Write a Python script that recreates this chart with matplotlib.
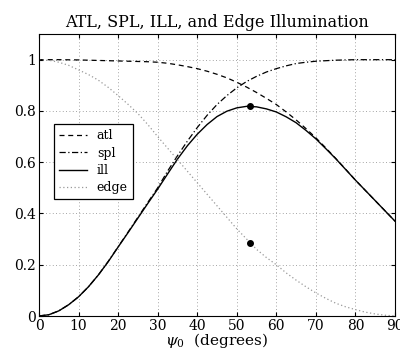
import matplotlib
matplotlib.use('Agg')
import matplotlib.pyplot as plt

# values (every 2.5 degrees)
psi0 = [0, 2.5, 5, 7.5, 10, 12.5, 15, 17.5, 20, 22.5, 25, 27.5, 30, 32.5, 35, 37.5,
        40, 42.5, 45, 47.5, 50, 52.5, 55, 57.5, 60, 62.5, 65, 67.5, 70, 72.5, 75,
        77.5, 80, 82.5, 85, 87.5, 90]
atl = [1.0, 1.0, 1.0, 0.9995, 0.999, 0.998, 0.997, 0.996, 0.995, 0.994, 0.993, 0.992,
       0.99, 0.986, 0.98, 0.973, 0.965, 0.955, 0.943, 0.929, 0.912, 0.893, 0.872,
       0.849, 0.825, 0.796, 0.765, 0.731, 0.695, 0.656, 0.615, 0.573, 0.53, 0.49,
       0.45, 0.41, 0.37]
spl = [0.0, 0.005, 0.02, 0.044, 0.075, 0.114, 0.16, 0.213, 0.27, 0.327, 0.385, 0.443,
       0.50, 0.565, 0.625, 0.682, 0.735, 0.783, 0.825, 0.86, 0.89, 0.915, 0.935,
       0.952, 0.965, 0.976, 0.985, 0.99, 0.994, 0.996, 0.998, 0.999, 1.0, 1.0,
       1.0, 1.0, 1.0]
ill = [0.0, 0.005, 0.02, 0.044, 0.075, 0.114, 0.16, 0.212, 0.269, 0.325, 0.382, 0.439,
       0.495, 0.554, 0.612, 0.664, 0.709, 0.747, 0.778, 0.799, 0.812, 0.818, 0.816,
       0.808, 0.796, 0.777, 0.754, 0.724, 0.691, 0.653, 0.614, 0.572, 0.53, 0.49,
       0.45, 0.41, 0.37]
edge = [1.0, 0.998, 0.99, 0.978, 0.96, 0.942, 0.92, 0.892, 0.86, 0.826, 0.79, 0.747,
        0.70, 0.655, 0.61, 0.565, 0.52, 0.475, 0.43, 0.385, 0.34, 0.30, 0.26, 0.228,
        0.20, 0.168, 0.14, 0.114, 0.09, 0.069, 0.05, 0.036, 0.025, 0.015, 0.008,
        0.003, 0.0]

# optimum point
psi_opt = [53.4, 53.4]
opt_vals = [0.818, 0.285]

xticks = [0, 10, 20, 30, 40, 50, 60, 70, 80, 90]
yticks = [0, 0.2, 0.4, 0.6, 0.8, 1]
ytick_labels = ['0', '0.2', '0.4', '0.6', '0.8', '1']

plt.rcParams['font.family'] = ['DejaVu Serif']
plt.rcParams['mathtext.fontset'] = 'dejavuserif'

fig = plt.figure(figsize=(4.0, 3.51), dpi=100)
ax = fig.add_axes([0.0975, 0.0997, 0.89, 0.8033])

ax.plot(psi0, atl, color='black', lw=0.9, ls=(0, (4, 3)), label='atl')
ax.plot(psi0, spl, color='black', lw=0.9, ls=(0, (5, 2, 1, 2)), label='spl')
ax.plot(psi0, ill, color='black', lw=1.0, ls='-', label='ill')
ax.plot(psi0, edge, color='#999999', lw=0.9, ls=(0, (1, 2)), label='edge')
ax.plot(psi_opt, opt_vals, 'o', color='black', ms=4, ls='none')

ax.set_xlim(0, 90)
ax.set_ylim(0, 1.1)
ax.set_xticks(xticks)
ax.set_yticks(yticks)
ax.set_yticklabels(ytick_labels)
ax.tick_params(direction='in', top=True, right=True, length=3, labelsize=10, pad=2)
ax.grid(True, ls=(0, (1, 3)), color='#888888', lw=0.6)

ax.set_title('ATL, SPL, ILL, and Edge Illumination', fontsize=11.5, pad=5)
ax.set_xlabel(r'$\psi_0$  (degrees)', fontsize=11, labelpad=-1)

leg = ax.legend(loc='upper left', bbox_to_anchor=(0.043, 0.68), borderaxespad=0,
                fancybox=False, edgecolor='black', framealpha=1, fontsize=9,
                handlelength=2.2, labelspacing=0.35)
leg.get_frame().set_linewidth(0.9)

fig.savefig('out.png', dpi=100)
